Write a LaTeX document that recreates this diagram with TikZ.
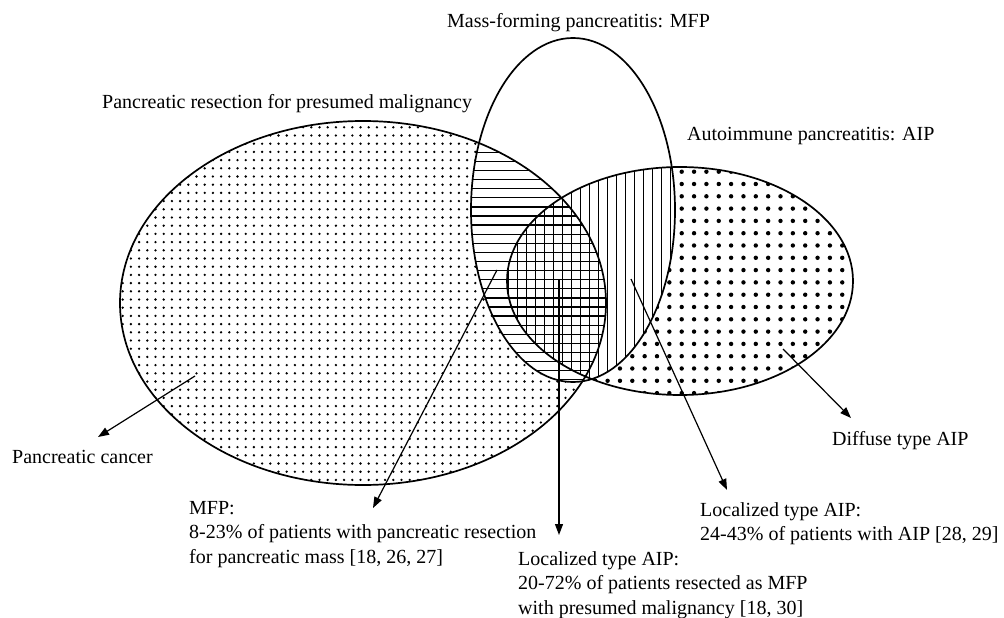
\documentclass[tikz,border=0pt]{standalone}
\usepackage{fontspec}
\setmainfont{Liberation Serif}
\usetikzlibrary{arrows.meta}
\begin{document}
\begin{tikzpicture}[x=1pt,y=-1pt,
  lbl/.style={font=\fontsize{20}{24.6}\selectfont, inner sep=0pt, anchor=base west},
  outline/.style={line width=1.7pt},
  arr/.style={line width=1.2pt, -{Triangle[length=11pt,width=8pt]}},
  hatch/.style={line width=1.3pt}]
\useasboundingbox (0,0) rectangle (1004,618);
\def\bigE{(363,303) ellipse [x radius=243pt, y radius=182pt]}
\def\mfpE{(573,210) ellipse [x radius=102pt, y radius=172pt]}
\def\aipE{(680,281) ellipse [x radius=173pt, y radius=114pt]}
% fine dots in resection ellipse
\begin{scope}
  \clip \bigE;
  \foreach \i in {0,...,60} \foreach \j in {0,...,46}
    \fill (122.7+\i*8.2, 119.1+\j*8.2) circle [radius=1.3pt];
\end{scope}
% large dots in AIP ellipse
\begin{scope}
  \clip \aipE;
  \foreach \i in {-15,...,15} \foreach \j in {0,...,19}
    \fill (681.7+\i*12.35, 159.4+\j*12.3) circle [radius=2.2pt];
\end{scope}
% MFP region blank
\fill[white] \mfpE;
% hatching inside MFP
\begin{scope}
  \clip \mfpE;
  \begin{scope}
    \clip \bigE;
    \foreach \j in {0,...,40}
      \draw[hatch] (460, 125+\j*9.1) -- (700, 125+\j*9.1);
  \end{scope}
  \begin{scope}
    \clip \aipE;
    \foreach \i in {0,...,24}
      \draw[hatch] (499.5+\i*9.0, 160) -- (499.5+\i*9.0, 400);
  \end{scope}
\end{scope}
% outlines
\draw[outline] \bigE;
\draw[outline] \aipE;
\draw[outline] \mfpE;
% labels
\node[lbl] (mfpt) at (447,28) {Mass-forming pancreatitis: MFP};
\node[lbl] (prt) at (102,108) {Pancreatic resection for presumed malignancy};
\node[lbl] (aipt) at (687,140) {Autoimmune pancreatitis: AIP};
\node[lbl] (pc) at (12,463) {Pancreatic cancer};
\node[lbl] (diff) at (832,445) {Diffuse type AIP};
\node[lbl] (mfp) at (189,514) {\begin{tabular}[t]{@{}l@{}}MFP:\\8-23\% of patients with pancreatic resection\\for pancreatic mass [18, 26, 27]\end{tabular}};
\node[lbl] (loca) at (700,516) {\begin{tabular}[t]{@{}l@{}}Localized type AIP:\\24-43\% of patients with AIP [28, 29]\end{tabular}};
\node[lbl] (locb) at (518,565) {\begin{tabular}[t]{@{}l@{}}Localized type AIP:\\20-72\% of patients resected as MFP\\with presumed malignancy [18, 30]\end{tabular}};
% arrows
\coordinate (pcs) at (195,376);  \coordinate (pce) at (98,437);
\coordinate (mfs) at (497,270);  \coordinate (mfe) at (373,508);
\coordinate (lbs) at (559,279);  \coordinate (lbe) at (559,535);
\coordinate (las) at (631,279);  \coordinate (lae) at (727,490);
\coordinate (dfs) at (783,349);  \coordinate (dfe) at (851,418);
\draw[arr] (pcs) -- (pce);
\draw[arr] (mfs) -- (mfe);
\draw[arr] (lbs) -- (lbe);
\draw[arr] (las) -- (lae);
\draw[arr] (dfs) -- (dfe);
\end{tikzpicture}
\end{document}
